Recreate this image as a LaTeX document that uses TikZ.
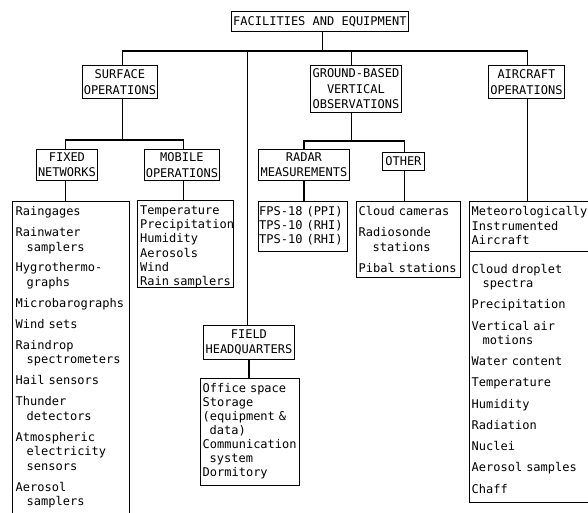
\documentclass[tikz,border=0pt]{standalone}
\usepackage{fontspec}
\newfontfamily\dmono{DejaVu Sans Mono}
\begin{document}
\begin{tikzpicture}[x=1pt,y=-1pt,
  hdr/.style={draw, line width=0.8pt, inner sep=0pt, align=center, anchor=north west,
    font=\dmono\fontsize{12}{15.5}\selectfont},
  box/.style={draw, line width=0.8pt, inner sep=0pt, anchor=north west},
  lst/.style={anchor=base west, inner sep=0pt, text width=#1, align=left},
  conn/.style={line width=1.3pt}]
\useasboundingbox (0,0) rectangle (588,512);
\clip (0,0) rectangle (588,512);

% header boxes
\node[hdr, minimum width=177pt, minimum height=20pt] (top) at (231,11) {FACILITIES AND EQUIPMENT};
\node[hdr, minimum width=75pt, minimum height=33pt] (surface) at (82,65) {SURFACE\\OPERATIONS};
\node[hdr, minimum width=91pt, minimum height=47pt] (ground) at (310,65) {GROUND-BASED\\VERTICAL\\OBSERVATIONS};
\node[hdr, minimum width=76pt, minimum height=33pt] (aircraft) at (488,65) {AIRCRAFT\\OPERATIONS};
\node[hdr, minimum width=61pt, minimum height=31pt] (fixed) at (36,149) {FIXED\\NETWORKS};
\node[hdr, minimum width=75pt, minimum height=31pt] (mobile) at (144,149) {MOBILE\\OPERATIONS};
\node[hdr, minimum width=91pt, minimum height=31pt] (radar) at (258,149) {RADAR\\MEASUREMENTS};
\node[hdr, minimum width=42pt, minimum height=18pt] (other) at (382,152) {OTHER};
\node[hdr, minimum width=91pt, minimum height=34pt] (fieldhq) at (203,325) {FIELD\\HEADQUARTERS};

% list boxes
\node[box, minimum width=117pt, minimum height=330pt] (fixedlist) at (12,201) {};
\node[box, minimum width=96pt, minimum height=87pt] (mobilelist) at (137,200) {};
\node[box, minimum width=89pt, minimum height=50pt] (radarlist) at (258,201) {};
\node[box, minimum width=104pt, minimum height=76pt] (otherlist) at (356,201) {};
\node[box, minimum width=125pt, minimum height=301pt] (airlist) at (469,201) {};
\node[box, minimum width=99pt, minimum height=107pt] (fieldlist) at (200,378) {};
\coordinate (divy) at (0,251);
\draw[line width=0.8pt] (airlist.west |- divy) -- (airlist.east |- divy);

% list texts
\node[lst=125pt, font=\dmono\fontsize{12}{14.6}\selectfont] (fixedtxt) at ([xshift=3.5pt,yshift=-14.5pt]fixedlist.north west)
 {Raingages\\[6.3pt]
  Rainwater\\\hspace*{11pt}samplers\\[6.3pt]
  Hygrothermo-\\\hspace*{11pt}graphs\\[6.3pt]
  Microbarographs\\[6.3pt]
  Wind sets\\[6.3pt]
  Raindrop\\\hspace*{11pt}spectrometers\\[6.3pt]
  Hail sensors\\[6.3pt]
  Thunder\\\hspace*{11pt}detectors\\[6.3pt]
  Atmospheric\\\hspace*{11pt}electricity\\\hspace*{11pt}sensors\\[6.3pt]
  Aerosol\\\hspace*{11pt}samplers};
\node[lst=105pt, font=\dmono\fontsize{12}{14.2}\selectfont] (mobiletxt) at ([xshift=3pt,yshift=-14.5pt]mobilelist.north west)
 {Temperature\\Precipitation\\Humidity\\Aerosols\\Wind\\Rain samplers};
\node[lst=100pt, font=\dmono\fontsize{12}{14}\selectfont] (radartxt) at ([xshift=1pt,yshift=-14.5pt]radarlist.north west)
 {FPS-18 (PPI)\\TPS-10 (RHI)\\TPS-10 (RHI)};
\node[lst=110pt, font=\dmono\fontsize{12}{15}\selectfont] (othertxt) at ([xshift=2.5pt,yshift=-14.5pt]otherlist.north west)
 {Cloud cameras\\[6pt]
  Radiosonde\\\hspace*{14pt}stations\\[6pt]
  Pibal stations};
\node[lst=130pt, font=\dmono\fontsize{12}{14.5}\selectfont] (airtxt) at ([xshift=2.5pt,yshift=-14.5pt]airlist.north west)
 {Meteorologically\\Instrumented\\Aircraft};
\node[lst=130pt, font=\dmono\fontsize{12}{14}\selectfont] (airtxt2) at ([xshift=2.5pt,yshift=-72.5pt]airlist.north west)
 {Cloud droplet\\\hspace*{11pt}spectra\\[7.3pt]
  Precipitation\\[7.3pt]
  Vertical air\\\hspace*{11pt}motions\\[7.3pt]
  Water content\\[7.3pt]
  Temperature\\[7.3pt]
  Humidity\\[7.3pt]
  Radiation\\[7.3pt]
  Nuclei\\[7.3pt]
  Aerosol samples\\[7.3pt]
  Chaff};
\node[lst=110pt, font=\dmono\fontsize{12}{14}\selectfont] (fieldtxt) at ([xshift=2.5pt,yshift=-14.5pt]fieldlist.north west)
 {Office space\\Storage\\(equipment \&\\\hspace*{7pt}data)\\Communication\\\hspace*{7pt}system\\Dormitory};

% connectors
\coordinate (bus) at (322,51);
\coordinate (topS) at ([xshift=2.5pt]top.south);
\coordinate (surfN) at ([xshift=2.5pt]surface.north);
\coordinate (airN) at ([xshift=1pt]aircraft.north);
\coordinate (grN) at ([xshift=-4.5pt]ground.north);
\coordinate (fhN) at ([xshift=-1.5pt]fieldhq.north);
\draw[conn] (topS) -- (topS |- bus);
\draw[conn] (surfN) |- (bus) -| (airN);
\draw[conn] (grN) -- (grN |- bus);
\draw[conn] (fhN) -- (fhN |- bus);

\coordinate (sbus) at (122,140);
\coordinate (surfS) at ([xshift=2.5pt]surface.south);
\coordinate (fixN) at ([xshift=-1.5pt]fixed.north);
\coordinate (fixS) at ([xshift=-1.5pt]fixed.south);
\coordinate (mobN) at ([xshift=1.5pt]mobile.north);
\coordinate (mobS) at ([xshift=1.5pt]mobile.south);
\draw[conn] (surfS) -- (surfS |- sbus);
\draw[conn] (fixN) |- (sbus) -| (mobN);
\draw[conn] (fixS) -- (fixS |- fixedlist.north);
\draw[conn] (mobS) -- (mobS |- mobilelist.north);

\coordinate (gbus) at (351,141);
\coordinate (grS) at ([xshift=-4.5pt]ground.south);
\coordinate (othN) at ([xshift=1pt]other.north);
\coordinate (othS) at ([xshift=1pt]other.south);
\coordinate (airS) at ([xshift=1pt]aircraft.south);
\draw[conn] (grS) -- (grS |- gbus);
\draw[conn] (radar.north) |- (gbus) -| (othN);
\draw[conn] (radar.south) -- (radar.south |- radarlist.north);
\draw[conn] (othS) -- (othS |- otherlist.north);
\draw[conn] (airS) -- (airS |- airlist.north);
\draw[conn] (fieldhq.south) -- (fieldhq.south |- fieldlist.north);
\end{tikzpicture}
\end{document}
